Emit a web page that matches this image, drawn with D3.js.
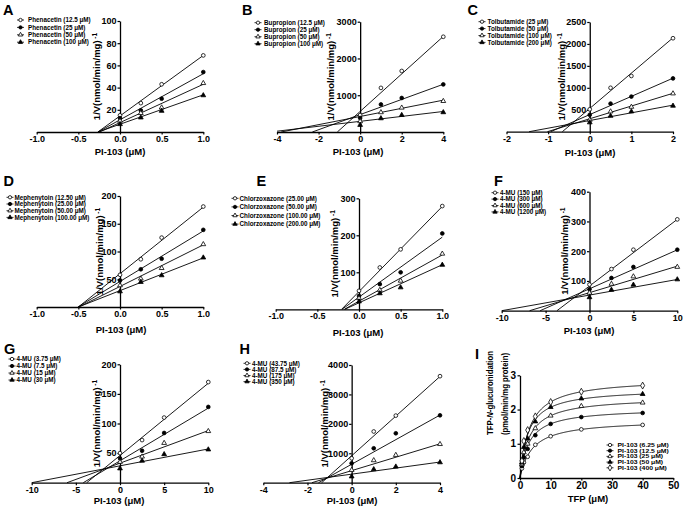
<!DOCTYPE html>
<html><head><meta charset="utf-8">
<script src="https://cdn.jsdelivr.net/npm/d3@7"></script>
<style>
body{margin:0;background:#fff;}
svg text{font-family:"Liberation Sans",Arial,sans-serif;font-weight:bold;fill:#000;}
</style></head><body>
<svg id="c" width="684" height="511"></svg>
<script>
// ---------------- DATA ----------------
// Panel A: Phenacetin
const aLabels = ["Phenacetin (12.5 μM)","Phenacetin (25 μM)","Phenacetin (50 μM)","Phenacetin (100 μM)"];
const aX = [0, 0.25, 0.5, 1];
const aY = [[15,26,43,69],[12.5,19.5,30,54],[10,17,22,44],[7,13,19,33]];
const aSlope = [54.5,41.5,34.5,26.5];
const aIntercept = [14.5,11,8.5,7];
const aXTicks = [-1,-0.5,0,0.5,1];
const aYTicks = [20,40,60,80,100];

// Panel B: Bupropion
const bLabels = ["Bupropion (12.5 μM)","Bupropion (25 μM)","Bupropion (50 μM)","Bupropion (100 μM)"];
const bX = [0,1,2,4];
const bY = [[460,1200,1660,2590],[380,750,925,1295],[290,535,660,840],[190,370,460,535]];
const bSlope = [510,206,111,67];
const bIntercept = [560,474,422,290];
const bXTicks = [-4,-2,0,2,4];
const bYTicks = [1000,2000,3000];

// Panel C: Tolbutamide
const cLabels = ["Tolbutamide (25 μM)","Tolbutamide (50 μM)","Tolbutamide (100 μM)","Tolbutamide (200 μM)"];
const cX = [0,0.5,1,2];
const cY = [[510,1000,1270,2130],[385,640,800,1215],[270,460,565,870],[210,360,460,590]];
const cSlope = [805,415,290,175];
const cIntercept = [530,390,295,255];
const cXTicks = [-2,-1,0,1,2];
const cYTicks = [500,1000,1500,2000,2500];

// Panel D: Mephenytoin
const dLabels = ["Mephenytoin (12.50 μM)","Mephenytoin (25.00 μM)","Mephenytoin (50.00 μM)","Mephenytoin (100.00 μM)"];
const dX = [0,0.25,0.5,1];
const dY = [[58,86,125,181],[48,68,87,139],[39,51,70,113],[28,45,57,89]];
const dSlope = [120,91,75,59];
const dIntercept = [60,46,37,29.5];
const dXTicks = [-1,-0.5,0,0.5,1];
const dYTicks = [50,100,150,200];

// Panel E: Chlorzoxazone
const eLabels = ["Chlorzoxazone (25.00 μM)","Chlorzoxazone (50.00 μM)","Chlorzoxazone (100.00 μM)","Chlorzoxazone (200.00 μM)"];
const eX = [0,0.25,0.5,1];
const eY = [[50,113,162,279],[36,68,100,205],[30,52,77,150],[21,43,59,120]];
const eSlope = [230,162,125,103];
const eIntercept = [48,33,22,17.5];
const eXTicks = [-1,-0.5,0,0.5,1];
const eYTicks = [100,200,300];

// Panel F: 4-MU
const fLabels = ["4-MU (150 μM)","4-MU (300 μM)","4-MU (600 μM)","4-MU (1200 μM)"];
const fX = [0,2.5,5,10];
const fY = [[88,140,205,307],[72,110,147,205],[60,90,115,147],[45,70,87,105]];
const fSlope = [22.4,13.1,8.9,5.25];
const fIntercept = [83,73.6,60.7,52.5];
const fXTicks = [-10,-5,0,5,10];
const fYTicks = [100,200,300,400];

// Panel G: 4-MU
const gLabels = ["4-MU (3.75 μM)","4-MU (7.5 μM)","4-MU (15 μM)","4-MU (30 μM)"];
const gX = [0,2.5,5,10];
const gY = [[50,72,110,170],[41,54,84,128],[35,44,67,87],[24,37,48,56]];
const gSlope = [12.2,8.9,5.5,2.85];
const gIntercept = [46,37,33,28.5];
const gXTicks = [-10,-5,0,5,10];
const gYTicks = [50,100,150,200];

// Panel H: 4-MU
const hLabels = ["4-MU (43.75 μM)","4-MU (87.5 μM)","4-MU (175 μM)","4-MU (350 μM)"];
const hX = [0,1,2,4];
const hY = [[830,1740,2280,3620],[660,1170,1680,2290],[430,760,940,1310],[210,455,545,690]];
const hSlope = [674,418,228,103];
const hIntercept = [915,627,410,290];
const hXTicks = [-4,-2,0,2,4];
const hYTicks = [1000,2000,3000,4000];

// Panel I: TFP-N-glucuronidation
const iLabels = ["PI-103 (6.25 μM)","PI-103 (12.5 μM)","PI-103 (25 μM)","PI-103 (50 μM)","PI-103 (400 μM)"];
const iX = [0.625,1.25,2.5,5,10,20,40];
const iY = [[0.28,0.45,0.62,0.97,1.22,1.42,1.55],
            [0.35,0.6,0.85,1.25,1.58,1.78,1.9],
            [0.4,0.75,1.0,1.45,1.82,2.1,2.2],
            [0.45,0.9,1.15,1.65,2.07,2.32,2.45],
            [0.5,1.08,1.4,1.8,2.22,2.52,2.7]];
const iVmax = [1.70,2.04,2.365,2.61,2.91];
const iKm = [3.96,2.9,3.0,2.63,3.1];
const iXTicks = [0,10,20,30,40,50];
const iYTicks = [0,1,2,3];

// ---------------- DRAWING ----------------
const svg = d3.select("#c");
const kinds = ["circleOpen","circleFilled","triOpen","triFilled","diamondOpen"];

function marker(g, kind, x, y, s) {
  s = s || 1;
  let type = d3.symbolCircle, size = 11;
  if (kind.startsWith("tri")) { type = d3.symbolTriangle; size = 10; }
  if (kind.startsWith("diamond")) { type = d3.symbolDiamond; size = 14; }
  g.append("path").attr("d", d3.symbol().type(type).size(size * s)())
    .attr("transform", `translate(${x},${y})`)
    .attr("fill", kind.endsWith("Open") ? "#fff" : "#000")
    .attr("stroke", "#000").attr("stroke-width", 0.8);
}

function styleAxis(a, fs) {
  a.select(".domain").attr("stroke-width", 1.3).attr("stroke", "#000");
  a.selectAll(".tick line").attr("stroke-width", 1.2).attr("stroke", "#000");
  a.selectAll("text").style("font-size", fs + "px");
}

function legend(g, labels, L, fs, sy) {
  sy = sy || 1;
  labels.forEach((t, i) => {
    const yy = L.y0 + i * L.dy;
    g.append("line").attr("x1", L.mx - 3.5).attr("x2", L.mx + 3.5).attr("y1", yy).attr("y2", yy)
      .attr("stroke", "#000").attr("stroke-width", 0.8);
    marker(g, kinds[i], L.mx, yy, 0.8);
    g.append("text").attr("transform", `translate(${L.tx},${yy + fs * 0.36 * sy}) scale(1,${sy})`)
      .style("font-size", fs + "px").text(t);
  });
}

function letter(t, x, y) {
  svg.append("text").attr("x", x).attr("y", y).style("font-size", "14.5px").text(t);
}

function yTitle(g, cx, cy) {
  const t = g.append("text").attr("transform", `translate(${cx + 3.3},${cy}) rotate(-90)`)
    .attr("text-anchor", "middle").style("font-size", "9.5px");
  t.append("tspan").text("1/V(nmol/min/mg)");
  t.append("tspan").attr("dy", -3.5).style("font-size", "6.5px").text(" -1");
}

function xTitle(g, text, cx, by) {
  g.append("text").attr("x", cx).attr("y", by).attr("text-anchor", "middle")
    .style("font-size", "9.5px").text(text);
}

function linePanel(P, D) {
  const g = svg.append("g");
  const x = d3.scaleLinear().domain(P.xd).range(P.xr);
  const y = d3.scaleLinear().domain(P.yd).range(P.yr);
  const fmt = P.fixed ? (v => v.toFixed(1)) : (v => String(v));
  const xa = g.append("g").attr("transform", `translate(0,${y(0)})`)
    .call(d3.axisBottom(x).tickValues(D.xTicks).tickSize(2.5).tickSizeOuter(0).tickPadding(1).tickFormat(fmt));
  styleAxis(xa, 9);
  const ya = g.append("g").attr("transform", `translate(${x(0)},0)`)
    .call(d3.axisLeft(y).tickValues(D.yTicks).tickSize(2.5).tickSizeOuter(0).tickPadding(1).tickFormat(v => String(v)));
  styleAxis(ya, 9);
  D.slope.forEach((m, i) => {
    const b = D.intercept[i];
    const xs = Math.max(P.xd[0], -b / m), xe = P.xd[1];
    g.append("line").attr("x1", x(xs)).attr("y1", y(m * xs + b)).attr("x2", x(xe)).attr("y2", y(m * xe + b))
      .attr("stroke", "#000").attr("stroke-width", 0.9);
  });
  D.ys.forEach((ser, i) => {
    ser.forEach((v, j) => marker(g, kinds[i], x(D.xs[j]), y(v)));
  });
  legend(g, D.labels, P.leg, 6.3);
  yTitle(g, P.ytx, (P.yr[0] + P.yr[1]) / 2);
  xTitle(g, "PI-103 (μM)", P.xtx, P.xty);
  letter(P.letter, P.lx, P.ly);
}

const layouts = [
  {letter:"A", lx:3, ly:15, xd:[-1,1], xr:[36.7,203.3], yd:[0,100], yr:[132,21], fixed:true,
   leg:{mx:20.5, tx:28, y0:20, dy:7.4}, ytx:97, xtx:120, xty:155.3},
  {letter:"B", lx:242, ly:15, xd:[-4,4], xr:[277,443.3], yd:[0,3000], yr:[132,21.7], fixed:false,
   leg:{mx:258, tx:264, y0:22.7, dy:7}, ytx:331, xtx:358, xty:154.5},
  {letter:"C", lx:467.5, ly:15, xd:[-2,2], xr:[506.5,673], yd:[0,2500], yr:[131.7,22], fixed:false,
   leg:{mx:482, tx:487.5, y0:21.7, dy:6.9}, ytx:562, xtx:590, xty:155.5},
  {letter:"D", lx:3.5, ly:185.5, xd:[-1,1], xr:[36.7,203.3], yd:[0,200], yr:[307,196], fixed:true,
   leg:{mx:10, tx:14.5, y0:197.3, dy:6.7}, ytx:100, xtx:121, xty:332.5},
  {letter:"E", lx:256.5, ly:186, xd:[-1,1], xr:[275.7,442.3], yd:[0,300], yr:[309.3,198.3], fixed:true,
   leg:{mx:235, tx:239.5, y0:198.3, dy:8.6}, ytx:335, xtx:358, xty:335.5},
  {letter:"F", lx:494, ly:185.5, xd:[-10,10], xr:[501.7,677.3], yd:[0,400], yr:[310.7,191.7], fixed:false,
   leg:{mx:495, tx:500, y0:192.7, dy:6.4}, ytx:565, xtx:589, xty:334},
  {letter:"G", lx:4, ly:353.5, xd:[-10,10], xr:[31.7,208.3], yd:[0,200], yr:[482.7,364.3], fixed:false,
   leg:{mx:12, tx:16.5, y0:359, dy:7}, ytx:97, xtx:119, xty:503.5},
  {letter:"H", lx:239.5, ly:353.5, xd:[-4,4], xr:[263.3,440], yd:[0,4000], yr:[482.7,365], fixed:false,
   leg:{mx:247, tx:252, y0:363.3, dy:6.1}, ytx:325, xtx:352, xty:503.5}
];

const datasets = [
  {labels:aLabels, xs:aX, ys:aY, slope:aSlope, intercept:aIntercept, xTicks:aXTicks, yTicks:aYTicks},
  {labels:bLabels, xs:bX, ys:bY, slope:bSlope, intercept:bIntercept, xTicks:bXTicks, yTicks:bYTicks},
  {labels:cLabels, xs:cX, ys:cY, slope:cSlope, intercept:cIntercept, xTicks:cXTicks, yTicks:cYTicks},
  {labels:dLabels, xs:dX, ys:dY, slope:dSlope, intercept:dIntercept, xTicks:dXTicks, yTicks:dYTicks},
  {labels:eLabels, xs:eX, ys:eY, slope:eSlope, intercept:eIntercept, xTicks:eXTicks, yTicks:eYTicks},
  {labels:fLabels, xs:fX, ys:fY, slope:fSlope, intercept:fIntercept, xTicks:fXTicks, yTicks:fYTicks},
  {labels:gLabels, xs:gX, ys:gY, slope:gSlope, intercept:gIntercept, xTicks:gXTicks, yTicks:gYTicks},
  {labels:hLabels, xs:hX, ys:hY, slope:hSlope, intercept:hIntercept, xTicks:hXTicks, yTicks:hYTicks}
];

layouts.forEach((P, k) => linePanel(P, datasets[k]));

// Panel I
(function () {
  const g = svg.append("g");
  const x = d3.scaleLinear().domain([0, 50]).range([520, 673.3]);
  const y = d3.scaleLinear().domain([0, 3]).range([478, 375.3]);
  const xa = g.append("g").attr("transform", `translate(0,${y(0)})`)
    .call(d3.axisBottom(x).tickValues(iXTicks).tickSize(2.5).tickSizeOuter(0).tickPadding(1.5).tickFormat(v => String(v)));
  styleAxis(xa, 10);
  const ya = g.append("g").attr("transform", `translate(${x(0)},0)`)
    .call(d3.axisLeft(y).tickValues(iYTicks).tickSize(2.5).tickSizeOuter(0).tickPadding(1.5).tickFormat(v => String(v)));
  styleAxis(ya, 10);
  const samples = d3.range(0, 40.001, 0.2);
  iVmax.forEach((vm, i) => {
    const km = iKm[i];
    g.append("path").attr("fill", "none").attr("stroke", "#000").attr("stroke-width", 0.9)
      .attr("d", d3.line().x(s => x(s)).y(s => y(vm * s / (km + s)))(samples));
  });
  iY.forEach((ser, i) => ser.forEach((v, j) => marker(g, kinds[i], x(iX[j]), y(v))));
  legend(g, iLabels, {mx:610, tx:617.5, y0:445, dy:5.7}, 6.8, 0.78);
  const t1 = g.append("text").attr("transform", `translate(493.3,393) rotate(-90)`)
    .attr("text-anchor", "middle").style("font-size", "9.5px")
    .attr("textLength", 84).attr("lengthAdjust", "spacingAndGlyphs");
  t1.append("tspan").text("TFP-");
  t1.append("tspan").style("font-style", "italic").text("N");
  t1.append("tspan").text("-glucuronidation");
  g.append("text").attr("transform", `translate(508.3,394) rotate(-90)`)
    .attr("text-anchor", "middle").style("font-size", "9.5px")
    .attr("textLength", 82).attr("lengthAdjust", "spacingAndGlyphs")
    .text("(pmol/min/mg protein)");
  xTitle(g, "TFP (μM)", 588, 502);
  letter("I", 475, 358.5);
})();
</script>
</body></html>
